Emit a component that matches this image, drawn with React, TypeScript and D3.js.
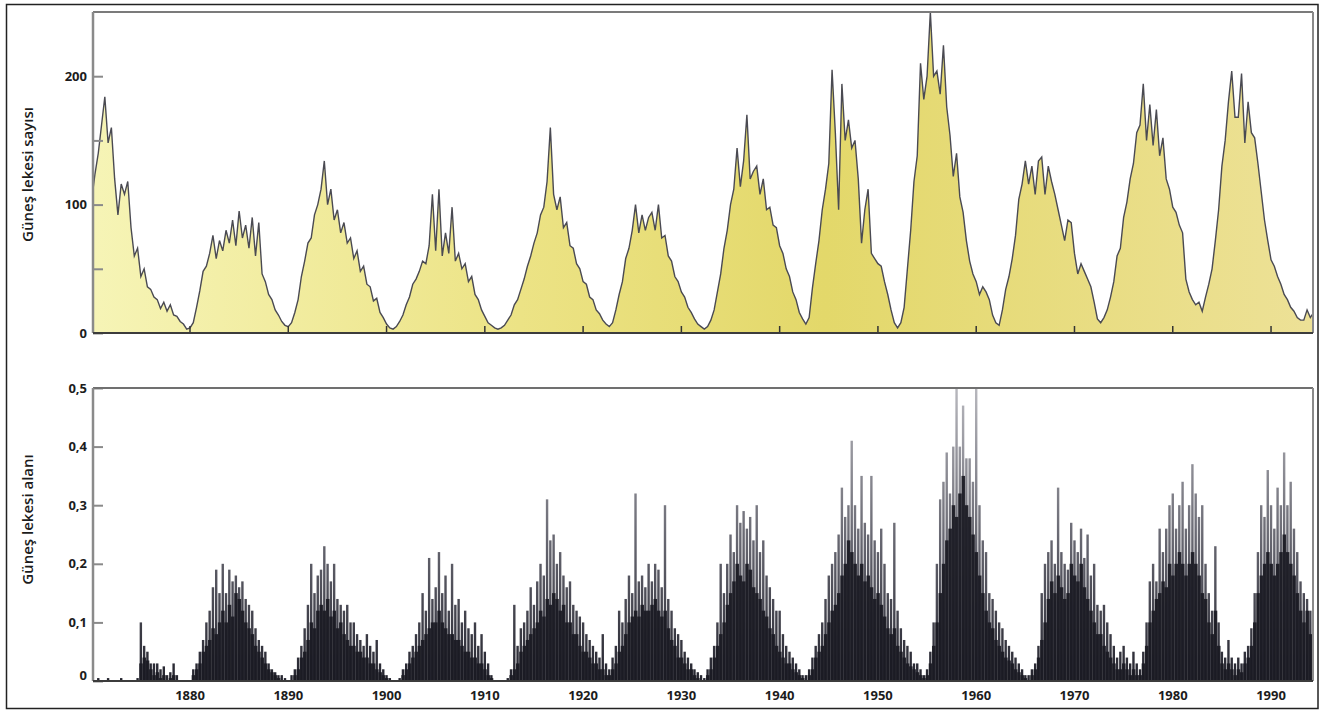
import React, { useRef, useEffect } from 'react';
import * as d3 from 'd3';

// monthly-ish samples, 3 per year starting at 1870
const startYear = 1870;
const perYear = 3;

// Güneş lekesi sayısı (sunspot number)
const sunspotNumber = [
  104, 124, 140, 162, 184, 148, 160, 120, 92, 116,
  108, 118, 82, 60, 66, 44, 50, 36, 34, 28,
  26, 19, 24, 17, 22, 14, 13, 9, 7, 3,
  4, 8, 20, 33, 48, 52, 62, 76, 58, 72,
  64, 80, 70, 88, 68, 95, 74, 84, 66, 90,
  60, 86, 46, 40, 30, 26, 18, 14, 9, 6,
  5, 8, 16, 26, 44, 56, 70, 74, 92, 100,
  112, 134, 100, 112, 88, 96, 78, 86, 70, 74,
  58, 64, 48, 52, 38, 36, 25, 27, 16, 12,
  7, 4, 3, 5, 9, 14, 22, 28, 38, 42,
  48, 56, 54, 68, 108, 64, 112, 60, 78, 62,
  98, 56, 62, 50, 54, 40, 44, 30, 26, 18,
  13, 8, 6, 4, 3, 4, 6, 10, 14, 22,
  26, 34, 42, 52, 60, 70, 78, 92, 98, 118,
  160, 108, 96, 106, 82, 86, 68, 66, 54, 50,
  40, 38, 28, 26, 18, 15, 10, 7, 5, 8,
  18, 30, 40, 58, 66, 80, 100, 78, 92, 80,
  90, 94, 80, 100, 74, 76, 60, 56, 44, 40,
  32, 28, 20, 16, 11, 7, 5, 3, 5, 10,
  18, 32, 46, 66, 80, 100, 112, 144, 114, 134,
  170, 120, 126, 130, 108, 120, 96, 98, 84, 82,
  68, 62, 50, 44, 32, 26, 16, 11, 7, 12,
  35, 54, 72, 96, 112, 132, 205, 156, 96, 194,
  150, 166, 144, 150, 120, 70, 96, 112, 62, 58,
  54, 52, 40, 30, 18, 8, 4, 8, 20, 50,
  80, 118, 138, 210, 182, 200, 250, 200, 204, 186,
  224, 176, 154, 122, 140, 106, 94, 72, 56, 46,
  40, 30, 36, 32, 26, 14, 8, 6, 18, 34,
  44, 58, 76, 104, 116, 134, 116, 130, 108, 134,
  137, 108, 130, 118, 108, 96, 84, 72, 88, 86,
  62, 46, 54, 48, 42, 36, 24, 11, 8, 12,
  18, 28, 40, 60, 66, 90, 102, 120, 132, 156,
  162, 194, 150, 178, 146, 174, 138, 152, 120, 112,
  98, 94, 84, 78, 42, 32, 26, 22, 24, 17,
  28, 38, 50, 72, 96, 130, 150, 180, 204, 168,
  168, 202, 148, 180, 156, 152, 132, 110, 88, 72,
  57, 52, 44, 38, 30, 26, 20, 17, 12, 10,
  10, 18, 12, 16,
];

// Güneş lekesi alanı: dense dark body
const areaCore = [
  0, 0, 0, 0, 0, 0, 0, 0, 0, 0,
  0, 0, 0, 0, 0, .03, .04, .035, .02, .01,
  .015, .005, .01, 0, .005, .01, 0, 0, 0, 0,
  0, .01, .02, .03, .05, .06, .07, .09, .08, .1,
  .12, .1, .13, .11, .15, .14, .12, .1, .09, .08,
  .06, .05, .04, .03, .02, .015, .01, .005, 0, 0,
  0, 0, .01, .02, .04, .05, .07, .1, .09, .12,
  .13, .12, .14, .11, .12, .09, .1, .08, .07, .06,
  .06, .05, .05, .04, .04, .03, .03, .02, .015, .01,
  .005, 0, 0, 0, 0, .01, .02, .03, .04, .05,
  .06, .07, .08, .09, .1, .1, .12, .1, .09, .08,
  .08, .07, .07, .06, .05, .05, .04, .04, .03, .03,
  .02, .01, .005, 0, 0, 0, 0, 0, .01, .02,
  .03, .05, .06, .07, .08, .09, .1, .12, .11, .14,
  .13, .15, .14, .12, .13, .1, .1, .08, .08, .06,
  .05, .05, .04, .03, .03, .02, .02, .01, .01, .02,
  .03, .05, .06, .08, .1, .11, .12, .11, .13, .12,
  .12, .13, .14, .12, .11, .12, .09, .07, .06, .04,
  .04, .03, .02, .02, .01, .005, 0, 0, .01, .02,
  .04, .06, .08, .1, .13, .15, .17, .2, .18, .17,
  .2, .19, .16, .15, .14, .12, .11, .09, .08, .06,
  .05, .04, .03, .03, .02, .015, .01, .005, 0, .01,
  .02, .04, .05, .06, .08, .1, .12, .13, .15, .18,
  .2, .24, .22, .2, .18, .2, .17, .18, .16, .14,
  .15, .13, .11, .09, .08, .09, .06, .05, .04, .03,
  .025, .02, .015, .01, .005, .01, .03, .06, .1, .15,
  .2, .24, .26, .3, .28, .32, .35, .3, .28, .25,
  .22, .18, .15, .12, .1, .09, .07, .06, .05, .04,
  .035, .03, .02, .015, .01, .005, 0, .01, .02, .04,
  .07, .1, .14, .17, .15, .18, .16, .14, .15, .2,
  .18, .17, .2, .16, .14, .12, .1, .08, .08, .06,
  .05, .04, .03, .02, .02, .03, .02, .01, .02, .01,
  .01, .03, .06, .1, .12, .14, .15, .17, .16, .2,
  .18, .2, .22, .2, .18, .2, .22, .2, .18, .15,
  .14, .1, .08, .12, .06, .03, .02, .03, .02, .01,
  .02, .015, .03, .04, .06, .1, .15, .18, .2, .22,
  .2, .18, .2, .22, .25, .22, .2, .18, .15, .12,
  .1, .12, .08, .1,
];

// Güneş lekesi alanı: thin grey spikes on top
const areaPeak = [
  0, 0, .005, 0, 0, .005, 0, 0, 0, .005,
  0, 0, 0, 0, .005, .1, .06, .05, .03, .03,
  .03, .02, .025, .01, .015, .03, .01, 0, 0, 0,
  0, .02, .03, .05, .07, .1, .12, .16, .19, .15,
  .2, .15, .19, .17, .18, .16, .17, .14, .13, .12,
  .09, .07, .06, .05, .03, .02, .015, .01, .01, .005,
  0, .01, .02, .04, .06, .09, .13, .2, .15, .18,
  .19, .23, .2, .17, .2, .14, .13, .12, .13, .1,
  .1, .08, .07, .06, .08, .06, .05, .07, .03, .02,
  .01, .005, 0, 0, .005, .02, .03, .05, .06, .08,
  .1, .15, .12, .21, .14, .16, .22, .15, .18, .12,
  .2, .13, .14, .1, .12, .09, .08, .1, .06, .08,
  .05, .03, .01, 0, 0, 0, 0, .005, .02, .13,
  .06, .09, .1, .12, .16, .13, .17, .2, .18, .31,
  .24, .25, .2, .22, .18, .16, .17, .13, .12, .11,
  .1, .08, .07, .06, .05, .04, .08, .03, .02, .04,
  .06, .12, .1, .14, .18, .15, .32, .17, .18, .16,
  .2, .17, .2, .19, .16, .3, .14, .12, .09, .08,
  .07, .05, .04, .03, .02, .015, .01, .005, .02, .04,
  .06, .1, .2, .15, .2, .25, .22, .3, .27, .29,
  .26, .28, .24, .3, .22, .24, .18, .16, .14, .12,
  .12, .08, .06, .05, .04, .03, .02, .01, .01, .02,
  .04, .06, .08, .1, .14, .18, .2, .22, .25, .33,
  .28, .3, .41, .3, .26, .35, .27, .25, .35, .24,
  .22, .26, .2, .15, .14, .27, .12, .09, .07, .06,
  .05, .03, .03, .02, .01, .02, .05, .1, .2, .31,
  .34, .39, .32, .4, .5, .4, .47, .38, .38, .34,
  .5, .3, .24, .22, .15, .14, .12, .1, .09, .07,
  .06, .05, .04, .03, .02, .01, .01, .02, .03, .06,
  .15, .2, .22, .24, .2, .33, .22, .2, .19, .27,
  .24, .22, .26, .21, .25, .18, .2, .13, .12, .13,
  .1, .08, .06, .04, .05, .06, .04, .03, .05, .03,
  .02, .05, .1, .17, .2, .17, .26, .22, .26, .3,
  .32, .26, .3, .34, .26, .3, .37, .32, .28, .3,
  .2, .15, .12, .23, .1, .05, .04, .07, .04, .03,
  .04, .03, .05, .06, .09, .15, .22, .3, .28, .36,
  .3, .26, .33, .3, .39, .3, .34, .26, .22, .17,
  .15, .14, .12, .13,
];

const decades = [1880, 1890, 1900, 1910, 1920, 1930, 1940, 1950, 1960, 1970, 1980, 1990];
const countTicks = [0, 50, 100, 150, 200];
const areaTicks = [0, 0.1, 0.2, 0.3, 0.4, 0.5];
const topTitle = 'Güneş lekesi sayısı';
const bottomTitle = 'Güneş lekesi alanı';

function App() {
  const chartRef = useRef<SVGSVGElement>(null);

  useEffect(() => {
    const svg = d3.select(chartRef.current);
    svg.selectAll('*').remove();
    const font = '"Open Sans", "DejaVu Sans", sans-serif';

    const x = d3.scaleLinear().domain([1870.13, 1994.27]).range([93, 1313]);
    const yTop = d3.scaleLinear().domain([0, 250]).range([333, 12]);
    const yBot = d3.scaleLinear().domain([0, 0.5]).range([681, 388]);
    const yearOf = (i: number) => startYear + i / perYear;
    const [x0, x1] = x.range();

    const defs = svg.append('defs');
    const sun = defs.append('linearGradient')
      .attr('id', 'sunFill')
      .attr('gradientUnits', 'userSpaceOnUse')
      .attr('x1', x0).attr('x2', x1).attr('y1', 0).attr('y2', 0);
    [
      { offset: '0%', color: '#f6f4b6' },
      { offset: '35%', color: '#ece385' },
      { offset: '60%', color: '#e3d86a' },
      { offset: '100%', color: '#ede197' },
    ].forEach(s => sun.append('stop').attr('offset', s.offset).attr('stop-color', s.color));

    const grey = defs.append('linearGradient')
      .attr('id', 'areaGrad')
      .attr('gradientUnits', 'userSpaceOnUse')
      .attr('x1', 0).attr('x2', 0).attr('y1', yBot(0)).attr('y2', yBot(0.5));
    [
      { offset: '0%', color: '#24242e' },
      { offset: '45%', color: '#62626c' },
      { offset: '100%', color: '#b8b8be' },
    ].forEach(s => grey.append('stop').attr('offset', s.offset).attr('stop-color', s.color));

    defs.append('clipPath').attr('id', 'clipTop').append('rect')
      .attr('x', x0).attr('y', yTop(250)).attr('width', x1 - x0).attr('height', yTop(0) - yTop(250));
    defs.append('clipPath').attr('id', 'clipBot').append('rect')
      .attr('x', x0).attr('y', yBot(0.5)).attr('width', x1 - x0).attr('height', yBot(0) - yBot(0.5));

    // outer frame
    svg.append('rect')
      .attr('x', 6.5).attr('y', 4.5).attr('width', 1311.5).attr('height', 704)
      .attr('fill', 'none').attr('stroke', '#222').attr('stroke-width', 1.5);

    // ---- top panel: sunspot number
    const top = svg.append('g');
    const plotTop = top.append('g').attr('clip-path', 'url(#clipTop)');
    const area = d3.area<number>()
      .x((d, i) => x(yearOf(i)))
      .y0(yTop(0))
      .y1(d => yTop(d));
    const line = d3.line<number>()
      .x((d, i) => x(yearOf(i)))
      .y(d => yTop(d));
    plotTop.append('path').datum(sunspotNumber).attr('d', area).attr('fill', 'url(#sunFill)');
    plotTop.append('path').datum(sunspotNumber).attr('d', line)
      .attr('fill', 'none').attr('stroke', '#4a4a52').attr('stroke-width', 1.4)
      .attr('stroke-linejoin', 'miter');

    const yAxisTop = top.append('g')
      .attr('transform', `translate(${x0},0)`)
      .call(d3.axisLeft(yTop).tickValues(countTicks).tickSize(-10).tickPadding(6)
        .tickFormat(d => (+d % 100 === 0 ? String(d) : '')));
    yAxisTop.select('.domain').remove();
    yAxisTop.selectAll('line').attr('stroke', '#8a8a8a').attr('stroke-width', 2);
    yAxisTop.selectAll('text').attr('font-family', font).attr('font-size', 13)
      .attr('font-weight', 700).attr('fill', '#1c1c1c');

    top.append('g').selectAll('line').data(decades).enter().append('line')
      .attr('x1', d => x(d)).attr('x2', d => x(d))
      .attr('y1', yTop(0)).attr('y2', yTop(0) - 7)
      .attr('stroke', '#333').attr('stroke-width', 1.5);

    top.append('line').attr('x1', x0).attr('x2', x1).attr('y1', yTop(250)).attr('y2', yTop(250))
      .attr('stroke', '#7b7b7b').attr('stroke-width', 2);
    top.append('line').attr('x1', x0).attr('x2', x0).attr('y1', yTop(250)).attr('y2', yTop(0))
      .attr('stroke', '#8a8a8a').attr('stroke-width', 2.5);
    top.append('line').attr('x1', x1).attr('x2', x1).attr('y1', yTop(250)).attr('y2', yTop(0))
      .attr('stroke', '#8a8a8a').attr('stroke-width', 2);
    top.append('line').attr('x1', x0).attr('x2', x1).attr('y1', yTop(0)).attr('y2', yTop(0))
      .attr('stroke', '#3c3c3c').attr('stroke-width', 2);

    top.append('text')
      .attr('transform', `translate(33,${(yTop(0) + yTop(250)) / 2 + 2}) rotate(-90)`)
      .attr('text-anchor', 'middle').attr('font-family', font).attr('font-size', 15)
      .attr('font-weight', 600).attr('fill', '#1c1c1c').text(topTitle);

    // ---- bottom panel: sunspot area
    const bot = svg.append('g');
    const plotBot = bot.append('g').attr('clip-path', 'url(#clipBot)');
    const bw = x(yearOf(1)) - x(yearOf(0));
    plotBot.append('g').selectAll('rect').data(areaPeak).enter().append('rect')
      .attr('x', (d, i) => x(yearOf(i)) - 1.2)
      .attr('width', 2.4)
      .attr('y', d => yBot(d))
      .attr('height', d => yBot(0) - yBot(d))
      .attr('fill', 'url(#areaGrad)');
    plotBot.append('g').selectAll('rect').data(areaCore).enter().append('rect')
      .attr('x', (d, i) => x(yearOf(i)) - bw / 2)
      .attr('width', bw + 0.3)
      .attr('y', d => yBot(d))
      .attr('height', d => yBot(0) - yBot(d))
      .attr('fill', '#1a1a23').attr('opacity', 0.92);

    const yAxisBot = bot.append('g')
      .attr('transform', `translate(${x0},0)`)
      .call(d3.axisLeft(yBot).tickValues(areaTicks).tickSize(-10).tickPadding(6)
        .tickFormat(d => (+d === 0 ? '0' : d3.format('.1f')(+d).replace('.', ','))));
    yAxisBot.select('.domain').remove();
    yAxisBot.selectAll('line').attr('stroke', '#8a8a8a').attr('stroke-width', 2);
    yAxisBot.selectAll('text').attr('font-family', font).attr('font-size', 13)
      .attr('font-weight', 700).attr('fill', '#1c1c1c');
    yAxisBot.selectAll<SVGTextElement, number>('text').filter(d => d === 0).attr('y', -6);

    bot.append('line').attr('x1', x0).attr('x2', x1).attr('y1', yBot(0.5)).attr('y2', yBot(0.5))
      .attr('stroke', '#707070').attr('stroke-width', 2);
    bot.append('line').attr('x1', x0).attr('x2', x0).attr('y1', yBot(0.5)).attr('y2', yBot(0))
      .attr('stroke', '#8a8a8a').attr('stroke-width', 2.5);
    bot.append('line').attr('x1', x1).attr('x2', x1).attr('y1', yBot(0.5)).attr('y2', yBot(0))
      .attr('stroke', '#8a8a8a').attr('stroke-width', 2);
    bot.append('line').attr('x1', x0).attr('x2', x1).attr('y1', yBot(0)).attr('y2', yBot(0))
      .attr('stroke', '#3c3c3c').attr('stroke-width', 2);

    bot.append('g').selectAll('text').data(decades).enter().append('text')
      .attr('x', d => x(d)).attr('y', 700)
      .attr('text-anchor', 'middle').attr('font-family', font).attr('font-size', 13)
      .attr('font-weight', 700).attr('fill', '#1c1c1c')
      .text(d => String(d));

    bot.append('text')
      .attr('transform', `translate(33,${(yBot(0) + yBot(0.5)) / 2 - 15}) rotate(-90)`)
      .attr('text-anchor', 'middle').attr('font-family', font).attr('font-size', 15)
      .attr('font-weight', 600).attr('fill', '#1c1c1c').text(bottomTitle);
  }, []);

  return (
    <svg
      ref={chartRef}
      width={1321}
      height={711}
      style={{ position: 'absolute', left: 0, top: 0, background: '#fff' }}
    />
  );
}

export default App;
